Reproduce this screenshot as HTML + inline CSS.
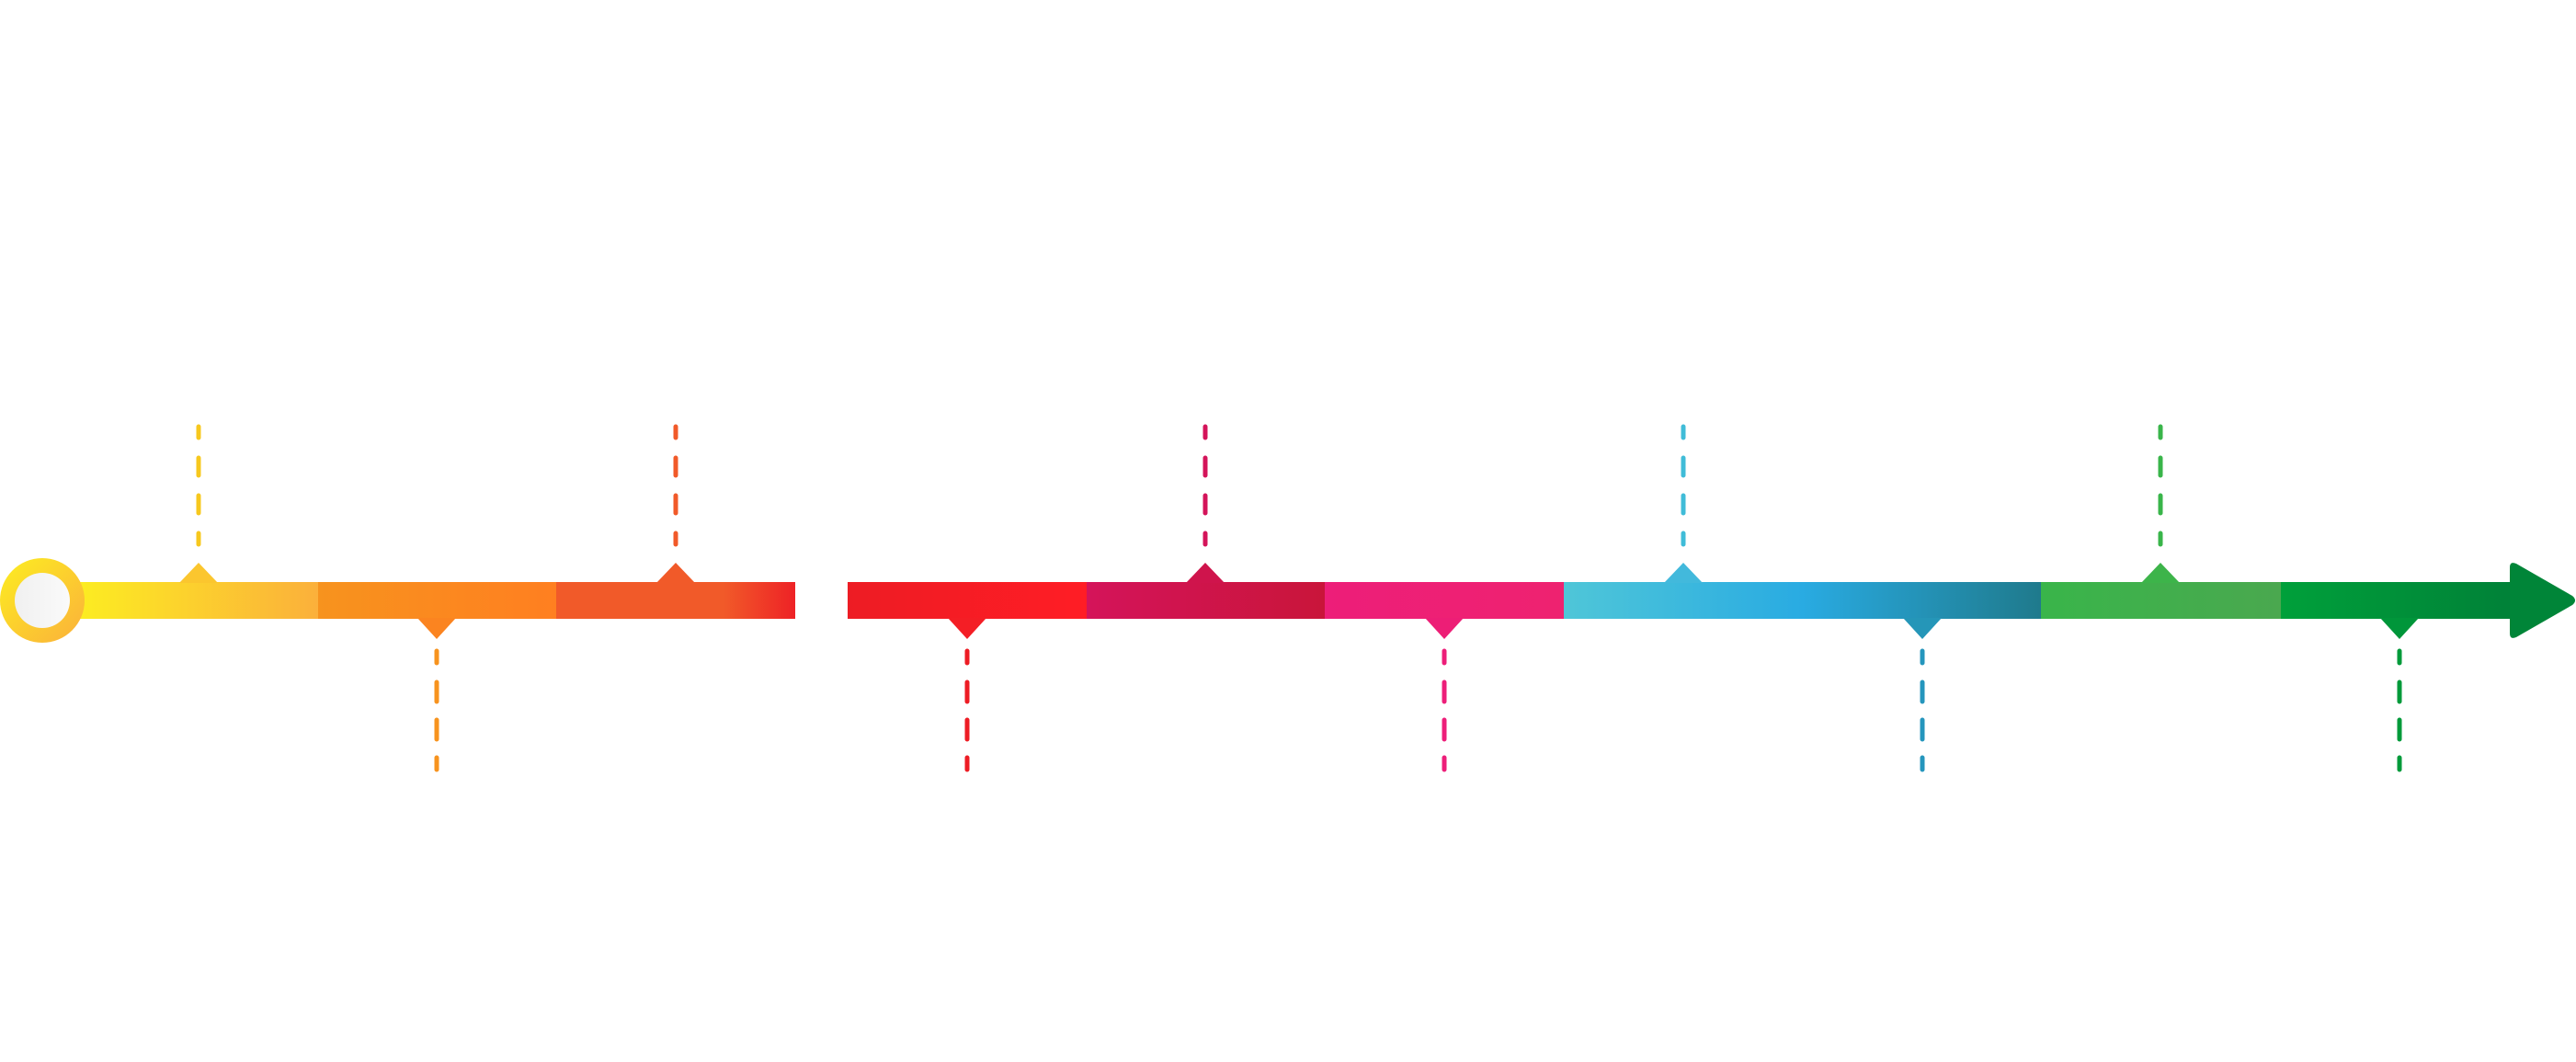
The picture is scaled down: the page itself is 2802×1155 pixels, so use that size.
<!DOCTYPE html>
<html><head><meta charset="utf-8"><style>html,body{margin:0;padding:0;background:#fff}svg{display:block}</style></head>
<body>
<svg width="2802" height="1155" viewBox="0 0 2802 1155" xmlns="http://www.w3.org/2000/svg">
<defs>
<linearGradient id="g1" x1="0" x2="1"><stop offset="0" stop-color="#fcee21"/><stop offset="1" stop-color="#fbb03b"/></linearGradient>
<linearGradient id="g2" x1="0" x2="1"><stop offset="0" stop-color="#f7931e"/><stop offset="1" stop-color="#ff7f20"/></linearGradient>
<linearGradient id="g3" x1="0" x2="1"><stop offset="0" stop-color="#f15a29"/><stop offset="0.7" stop-color="#f15a29"/><stop offset="1" stop-color="#ee2226"/></linearGradient>
<linearGradient id="g4" x1="0" x2="1"><stop offset="0" stop-color="#ed1c24"/><stop offset="1" stop-color="#ff1d25"/></linearGradient>
<linearGradient id="g5" x1="0" x2="1"><stop offset="0" stop-color="#d4145a"/><stop offset="1" stop-color="#c9153a"/></linearGradient>
<linearGradient id="g6" x1="0" x2="1"><stop offset="0" stop-color="#ed1e79"/><stop offset="1" stop-color="#ee2270"/></linearGradient>
<linearGradient id="g7" x1="0" x2="1"><stop offset="0" stop-color="#4fc6d8"/><stop offset="0.5" stop-color="#29abe2"/><stop offset="1" stop-color="#1f7a8c"/></linearGradient>
<linearGradient id="g8" x1="0" x2="1"><stop offset="0" stop-color="#39b54a"/><stop offset="1" stop-color="#4aa84f"/></linearGradient>
<linearGradient id="g9" x1="0" x2="1"><stop offset="0" stop-color="#00a03a"/><stop offset="1" stop-color="#008138"/></linearGradient>
<linearGradient id="gc" x1="0" y1="0" x2="1" y2="1"><stop offset="0" stop-color="#fcee21"/><stop offset="1" stop-color="#fbb03b"/></linearGradient>
<linearGradient id="gi" x1="0" x2="1"><stop offset="0" stop-color="#f0f0f0"/><stop offset="1" stop-color="#fafafa"/></linearGradient>
</defs>
<rect x="80" y="633" width="266" height="40" fill="url(#g1)"/>
<rect x="346" y="633" width="259" height="40" fill="url(#g2)"/>
<rect x="605" y="633" width="260" height="40" fill="url(#g3)"/>
<rect x="922" y="633" width="260" height="40" fill="url(#g4)"/>
<rect x="1182" y="633" width="259" height="40" fill="url(#g5)"/>
<rect x="1441" y="633" width="260" height="40" fill="url(#g6)"/>
<rect x="1701" y="633" width="519" height="40" fill="url(#g7)"/>
<rect x="2220" y="633" width="261" height="40" fill="url(#g8)"/>
<rect x="2481" y="633" width="252" height="40" fill="url(#g9)"/>
<path d="M2730 617 Q2730 610 2737 613 L2798 648 Q2804 653 2798 658 L2737 693 Q2730 696 2730 689 Z" fill="#008538"/>
<g>
<polygon points="195,634 216,612 237,634" fill="#fbc62e"/>
<polygon points="454,672 475,695 496,672" fill="#fb8420"/>
<polygon points="714,634 735,612 756,634" fill="#f15a29"/>
<polygon points="1031,672 1052,695 1073,672" fill="#f41e25"/>
<polygon points="1290,634 1311,612 1332,634" fill="#cf144c"/>
<polygon points="1550,672 1571,695 1592,672" fill="#ed1e76"/>
<polygon points="1810,634 1831,612 1852,634" fill="#42b9dc"/>
<polygon points="2070,672 2091,695 2112,672" fill="#2596b8"/>
<polygon points="2329,634 2350,612 2371,634" fill="#3db44a"/>
<polygon points="2589,672 2610,695 2631,672" fill="#00963a"/>
</g>
<g stroke-width="5" stroke-linecap="round" fill="none">
<path stroke="#f7c81e" d="M216 464V476M216 498V517M216 539V558M216 580V592"/>
<path stroke="#f15a29" d="M735 464V476M735 498V517M735 539V558M735 580V592"/>
<path stroke="#d4145a" d="M1311 464V476M1311 498V517M1311 539V558M1311 580V592"/>
<path stroke="#40bcd8" d="M1831 464V476M1831 498V517M1831 539V558M1831 580V592"/>
<path stroke="#39b54a" d="M2350 464V476M2350 498V517M2350 539V558M2350 580V592"/>
<path stroke="#f7931e" d="M475 708V721M475 742V763M475 783V804M475 824V837"/>
<path stroke="#ed1c24" d="M1052 708V721M1052 742V763M1052 783V804M1052 824V837"/>
<path stroke="#ed1e79" d="M1571 708V721M1571 742V763M1571 783V804M1571 824V837"/>
<path stroke="#2596bd" d="M2091 708V721M2091 742V763M2091 783V804M2091 824V837"/>
<path stroke="#009a3a" d="M2610 708V721M2610 742V763M2610 783V804M2610 824V837"/>
</g>
<circle cx="46" cy="653" r="46" fill="url(#gc)"/>
<circle cx="46" cy="653" r="30" fill="url(#gi)"/>
</svg>
</body></html>
